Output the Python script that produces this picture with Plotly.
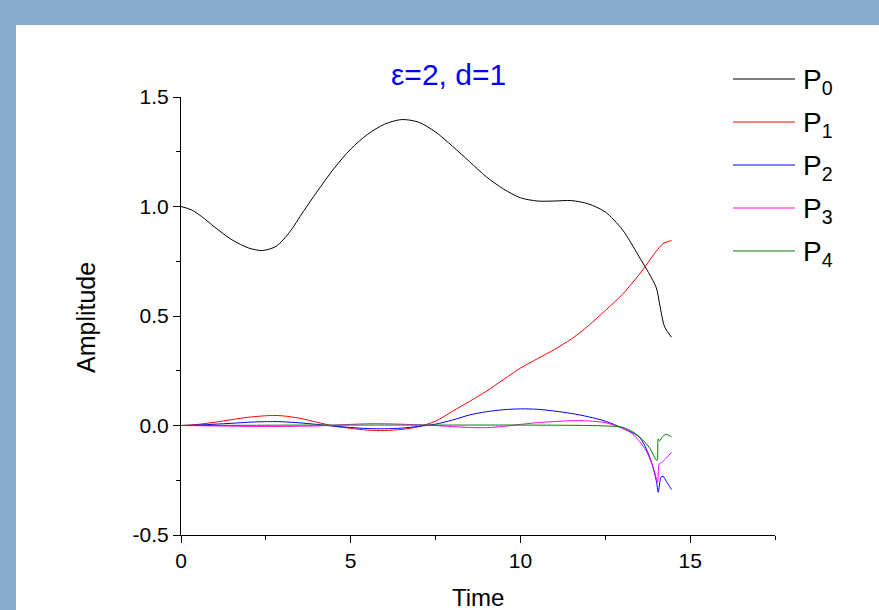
import plotly.graph_objects as go

# ---- data ----
t_p0 = [0, 0.3, 0.6, 1.0, 1.5, 2.0, 2.4, 2.8, 3.2, 3.6, 4.0, 4.5, 5.0, 5.5, 6.0, 6.5, 7.0, 7.5, 8.0,
        8.5, 9.0, 9.5, 10.0, 10.5, 11.0, 11.5, 12.0, 12.5, 13.0, 13.5, 14.0, 14.1, 14.25, 14.45]
p0 = [1.0, 0.985, 0.955, 0.905, 0.848, 0.81, 0.799, 0.818, 0.883, 0.976, 1.066, 1.172, 1.262, 1.33,
      1.376, 1.397, 1.385, 1.34, 1.275, 1.205, 1.135, 1.08, 1.04, 1.025, 1.025, 1.027, 1.012, 0.975,
      0.895, 0.77, 0.63, 0.555, 0.45, 0.403]

t_p1 = [0, 0.5, 1.0, 1.5, 2.0, 2.7, 3.0, 3.5, 4.0, 4.5, 5.0, 5.5, 6.0, 6.5, 7.0, 7.5, 8.0, 8.5,
        9.0, 9.5, 10.0, 10.5, 11.0, 11.5, 12.0, 12.5, 13.0, 13.5, 14.0, 14.2, 14.45]
p1 = [0, 0.005, 0.015, 0.027, 0.038, 0.046, 0.044, 0.033, 0.015, -0.002, -0.013, -0.021, -0.023,
      -0.018, -0.005, 0.02, 0.065, 0.11, 0.157, 0.21, 0.262, 0.305, 0.347, 0.395, 0.455, 0.525,
      0.598, 0.69, 0.795, 0.83, 0.845]

t_p2 = [0, 0.5, 1.0, 1.5, 2.0, 2.7, 3.0, 3.5, 4.0, 4.5, 5.0, 5.5, 6.0, 6.5, 7.0, 7.5, 8.0, 8.5,
        9.0, 9.5, 10.0, 10.5, 11.0, 11.5, 12.0, 12.5, 13.0, 13.5, 13.8, 14.0, 14.06, 14.14, 14.2,
        14.3, 14.45]
p2 = [0, 0.002, 0.006, 0.01, 0.015, 0.018, 0.017, 0.012, 0.005, -0.003, -0.009, -0.014, -0.015,
      -0.012, -0.004, 0.006, 0.025, 0.048, 0.063, 0.072, 0.076, 0.074, 0.066, 0.055, 0.04, 0.02,
      -0.012, -0.053, -0.14, -0.25, -0.305, -0.236, -0.232, -0.255, -0.292]

t_p3 = [0, 1.0, 2.0, 3.0, 4.0, 4.5, 5.0, 5.5, 6.0, 6.5, 7.0, 7.5, 8.0, 8.5, 9.0, 9.5, 10.0, 10.5,
        11.0, 11.5, 12.0, 12.5, 13.0, 13.3, 13.7, 13.94, 14.04, 14.09, 14.15, 14.3, 14.45]
p3 = [0, -0.002, -0.004, -0.004, -0.002, 0.001, 0.005, 0.008, 0.008, 0.006, 0.003, 0.0, -0.005,
      -0.009, -0.01, -0.004, 0.005, 0.013, 0.018, 0.022, 0.021, 0.013, -0.012, -0.038, -0.114,
      -0.205, -0.259, -0.175, -0.17, -0.148, -0.122]

t_p4 = [0, 2.0, 4.0, 6.0, 8.0, 10.0, 12.0, 12.5, 13.0, 13.4, 13.79, 14.02, 14.06, 14.1, 14.19,
        14.28, 14.38, 14.45]
p4 = [0, 0.001, 0.002, 0.002, 0.002, 0.002, 0.0, -0.002, -0.008, -0.038, -0.099, -0.16, -0.061,
      -0.07, -0.05, -0.041, -0.045, -0.053]

series_names = ["P<sub>0</sub>", "P<sub>1</sub>", "P<sub>2</sub>", "P<sub>3</sub>", "P<sub>4</sub>"]
series_colors = ["#000000", "#ff0000", "#0000ff", "#ff00ff", "#008000"]
series_x = [t_p0, t_p1, t_p2, t_p3, t_p4]
series_y = [p0, p1, p2, p3, p4]

x_ticks = [0, 5, 10, 15]
x_labels = ["0", "5", "10", "15"]
y_ticks = [-0.5, 0.0, 0.5, 1.0, 1.5]
y_labels = ["-0.5", "0.0", "0.5", "1.0", "1.5"]

FONT = "Arial, Liberation Sans, sans-serif"

fig = go.Figure()
for xs, ys, c in zip(series_x, series_y, series_colors):
    fig.add_trace(go.Scatter(x=xs, y=ys, mode="lines", showlegend=False,
                             line=dict(color=c, width=1, shape="spline", smoothing=0.8)))

# geometry (pixels)
W, H = 879, 610
L, R, T, B = 181, 775, 97, 535
pw, ph = R - L, B - T

def px2x(px):
    return (px - L) / pw

def py2y(py):
    return (B - py) / ph

shapes = [dict(type="rect", xref="paper", yref="paper", layer="below",
               x0=px2x(16), x1=px2x(W + 5), y0=py2y(H + 5), y1=py2y(25),
               fillcolor="white", line=dict(width=0))]
annotations = []
leg_y = [79, 122, 165, 208, 251]
for i, (name, c) in enumerate(zip(series_names, series_colors)):
    shapes.append(dict(type="line", xref="paper", yref="paper",
                       x0=px2x(733), x1=px2x(795), y0=py2y(leg_y[i]), y1=py2y(leg_y[i]),
                       line=dict(color=c, width=1)))
    annotations.append(dict(text=name, xref="paper", yref="paper", x=px2x(801), y=py2y(leg_y[i] + 2),
                            xanchor="left", yanchor="middle", showarrow=False,
                            font=dict(size=28, color="black", family=FONT)))

annotations.append(dict(text="ε=2, d=1", xref="paper", yref="paper", x=px2x(448), y=py2y(74),
                        xanchor="center", yanchor="middle", showarrow=False,
                        font=dict(size=30, color="#0000ff", family=FONT)))
annotations.append(dict(text="Time", xref="paper", yref="paper", x=px2x(478), y=py2y(597),
                        xanchor="center", yanchor="middle", showarrow=False,
                        font=dict(size=24, color="black", family=FONT)))
annotations.append(dict(text="Amplitude", xref="paper", yref="paper", x=px2x(86), y=py2y(318),
                        xanchor="center", yanchor="middle", showarrow=False, textangle=-90,
                        font=dict(size=25, color="black", family=FONT)))

fig.update_layout(
    width=W, height=H,
    margin=dict(l=L, r=W - R, t=T, b=H - B, pad=0),
    paper_bgcolor="#88aacb",
    plot_bgcolor="rgba(0,0,0,0)",
    font=dict(family=FONT, color="black"),
    shapes=shapes,
    annotations=annotations,
    xaxis=dict(range=[0, 17.5], tickvals=x_ticks, ticktext=x_labels, ticks="outside", ticklen=7,
               tickwidth=1, tickcolor="black", showline=True, linecolor="black", linewidth=1,
               showgrid=False, zeroline=False, tickfont=dict(size=21), automargin=False,
               minor=dict(dtick=2.5, tick0=0, ticks="outside", ticklen=4, tickcolor="black", showgrid=False)),
    yaxis=dict(range=[-0.5, 1.5], tickvals=y_ticks, ticktext=y_labels, ticks="outside", ticklen=7,
               tickwidth=1, tickcolor="black", showline=True, linecolor="black", linewidth=1,
               showgrid=False, zeroline=False, tickfont=dict(size=21), automargin=False,
               minor=dict(dtick=0.25, tick0=0, ticks="outside", ticklen=4, tickcolor="black", showgrid=False)),
)

fig.write_html("out.html", config={"displayModeBar": False},
               post_script="document.body.style.margin='0';document.body.style.padding='0';")
